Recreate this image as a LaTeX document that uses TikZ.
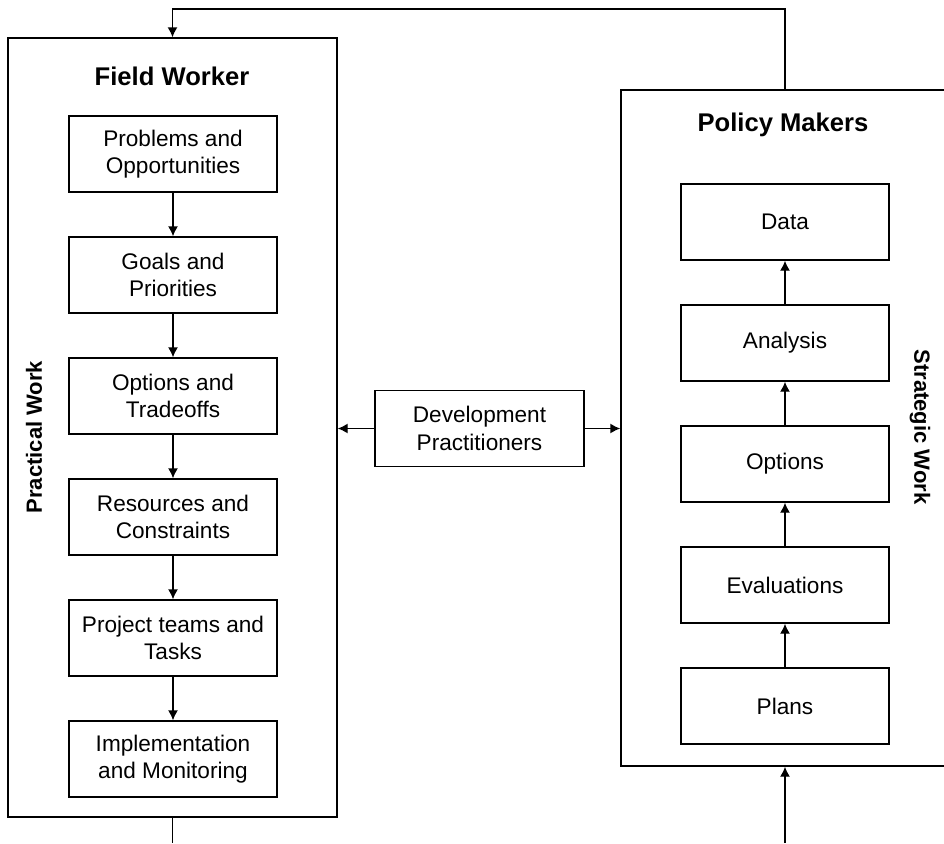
\documentclass[tikz,border=0pt]{standalone}
\usepackage{fontspec}
\setmainfont{Liberation Sans}
\usetikzlibrary{arrows.meta}

\tikzset{
    stagebox/.style={draw, line width=0.7pt, minimum width=104pt, minimum height=38pt,
        align=center, inner sep=2pt, font=\fontsize{11.3}{13.6}\selectfont},
    groupbox/.style={draw, line width=0.7pt, inner sep=0pt},
    grouptitle/.style={font=\fontsize{12.8}{15}\selectfont\bfseries},
    sidelabel/.style={font=\fontsize{11}{13}\selectfont\bfseries},
    flow/.style={line width=0.7pt, -{Latex[length=5pt,width=5pt]}},
    plain/.style={line width=0.7pt}
}

\begin{document}
\begin{tikzpicture}[x=0.5pt, y=-0.5pt]
    \useasboundingbox (0,0) rectangle (944,843);

    % the two groups
    \node[groupbox, minimum width=164.5pt, minimum height=389.5pt] (field) at (172.5,427.5) {};
    \node[groupbox, minimum width=164pt, minimum height=338pt] (policy) at (785,428) {};
    \node[grouptitle] (fieldtitle) at (172,76) {Field Worker};
    \node[grouptitle] (policytitle) at (783,125) {Policy Makers};
    \node[sidelabel, rotate=90] (practical) at (34,437) {Practical Work};
    \node[sidelabel, rotate=-90] (strategic) at (920,427) {Strategic Work};

    % field worker steps
    \node[stagebox] (problems) at (173,154) {Problems and\\Opportunities};
    \node[stagebox] (goals) at (173,275) {Goals and\\Priorities};
    \node[stagebox] (tradeoffs) at (173,396) {Options and\\Tradeoffs};
    \node[stagebox] (resources) at (173,517) {Resources and\\Constraints};
    \node[stagebox] (teams) at (173,638) {Project teams and\\Tasks};
    \node[stagebox] (implement) at (173,759) {Implementation\\and Monitoring};

    % policy maker steps
    \node[stagebox] (data) at (785,222) {Data};
    \node[stagebox] (analysis) at (785,343) {Analysis};
    \node[stagebox] (options) at (785,464) {Options};
    \node[stagebox] (evaluations) at (785,585) {Evaluations};
    \node[stagebox] (plans) at (785,706) {Plans};

    % practitioners in between
    \node[stagebox, minimum width=104.5pt] (practitioners) at (479.5,428.5) {Development\\Practitioners};

    \foreach \a/\b in {problems/goals, goals/tradeoffs, tradeoffs/resources,
                       resources/teams, teams/implement,
                       plans/evaluations, evaluations/options, options/analysis, analysis/data}
        \draw[flow] (\a) -- (\b);

    \draw[flow] (practitioners.west) -- (practitioners.west -| field.east);
    \draw[flow] (practitioners.east) -- (practitioners.east -| policy.west);

    % feedback loop on top
    \coordinate (loopright) at (785,9);
    \coordinate (loopleft) at (172.5,9);
    \draw[flow] (policy.north) -- (loopright) -- (loopleft) -- (field.north);

    % open ends at the bottom
    \coordinate (fieldout) at (172.5,843);
    \coordinate (policyin) at (785,843);
    \draw[plain] (field.south) -- (fieldout);
    \draw[flow] (policyin) -- (policy.south);
\end{tikzpicture}
\end{document}
